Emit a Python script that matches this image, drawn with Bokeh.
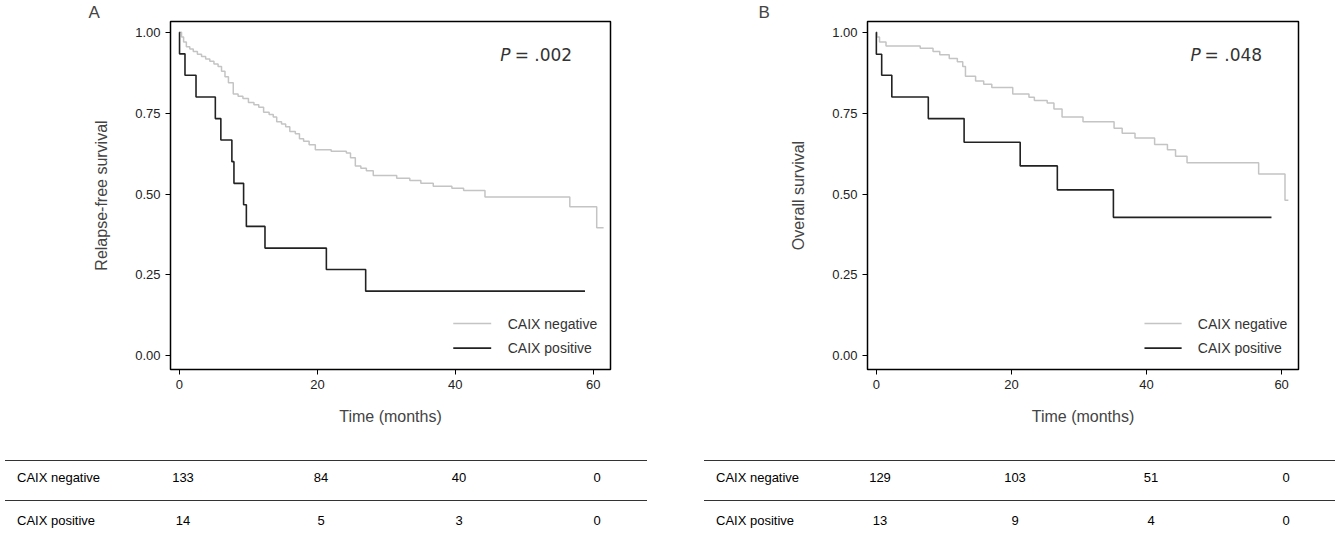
from bokeh.plotting import figure
from bokeh.models import Range1d, Label, NumeralTickFormatter, FixedTicker, Div
from bokeh.layouts import row, column
from bokeh.embed import file_html
from bokeh.resources import INLINE

# Panel A: relapse-free survival
a_neg_t = [0, 0.3, 0.6, 1.0, 1.5, 2.0, 2.6, 3.2, 3.8, 4.4, 5.0, 5.6, 6.1, 6.6, 7.1, 7.8, 8.5, 9.2, 10.0, 10.8,
           11.5, 12.2, 13.0, 13.6, 14.1, 14.8, 15.4, 16.0, 16.8, 17.4, 18.0, 18.8, 19.7, 22.0, 24.2, 24.8, 25.5,
           26.3, 27.1, 28.1, 31.5, 33.4, 35.0, 36.8, 39.5, 41.2, 44.3, 56.6, 60.5, 61.5]
a_neg_s = [1.0, 0.985, 0.970, 0.955, 0.948, 0.940, 0.932, 0.925, 0.917, 0.910, 0.902, 0.894, 0.879, 0.862, 0.844,
           0.809, 0.802, 0.795, 0.783, 0.776, 0.768, 0.753, 0.746, 0.738, 0.723, 0.716, 0.708, 0.693, 0.686, 0.671,
           0.663, 0.652, 0.637, 0.632, 0.627, 0.612, 0.587, 0.580, 0.572, 0.557, 0.549, 0.542, 0.533, 0.524, 0.518,
           0.511, 0.491, 0.461, 0.396, 0.396]
a_pos_t = [0, 0.01, 0.8, 2.4, 5.2, 6.0, 7.6, 7.9, 9.3, 9.7, 12.4, 21.3, 27.0, 58.8]
a_pos_s = [1.0, 0.933, 0.867, 0.80, 0.733, 0.667, 0.60, 0.533, 0.467, 0.40, 0.333, 0.267, 0.20, 0.20]

# Panel B: overall survival
b_neg_t = [0, 0.1, 0.48, 1.44, 6.5, 8.4, 9.4, 10.8, 12.0, 12.8, 13.2, 14.7, 15.9, 17.1, 20.2, 22.6, 23.4, 25.3,
           26.3, 27.5, 30.6, 35.2, 36.4, 38.3, 41.2, 43.1, 44.3, 46.0, 56.6, 60.5, 61.0]
b_neg_s = [1.0, 0.985, 0.970, 0.957, 0.950, 0.940, 0.930, 0.919, 0.909, 0.894, 0.864, 0.849, 0.839, 0.829, 0.809,
           0.799, 0.789, 0.781, 0.763, 0.738, 0.723, 0.703, 0.688, 0.673, 0.653, 0.637, 0.617, 0.597, 0.562, 0.481,
           0.481]
b_pos_t = [0, 0.01, 0.8, 2.3, 7.7, 13.0, 21.3, 26.8, 35.1, 58.5]
b_pos_s = [1.0, 0.932, 0.867, 0.80, 0.733, 0.66, 0.587, 0.513, 0.428, 0.428]

table_times = [0, 20, 40, 60]
a_neg_risk = ["133", "84", "40", "0"]
a_pos_risk = ["14", "5", "3", "0"]
b_neg_risk = ["129", "103", "51", "0"]
b_pos_risk = ["13", "9", "4", "0"]

FONT = "Liberation Sans"
XR = (-1.3, 62.5)


def panel(letter, ylabel, pval, neg_t, neg_s, pos_t, pos_s, neg_risk, pos_risk, bl, fw, br, line_l, line_r):
    W = bl + fw + br
    p = figure(width=W, height=440, x_range=Range1d(*XR), y_range=Range1d(-0.042, 1.033),
               output_backend="svg", toolbar_location=None, min_border_left=bl, min_border_right=br,
               min_border_top=0, min_border_bottom=71)
    p.title.text = letter
    p.title.text_font = FONT
    p.title.text_font_size = "17px"
    p.title.text_font_style = "normal"
    p.title.offset = -(bl - 88)
    p.title.standoff = 0
    p.xgrid.visible = False
    p.ygrid.visible = False
    p.outline_line_color = "black"
    p.outline_line_width = 1.5
    p.xaxis.ticker = FixedTicker(ticks=[0, 20, 40, 60])
    p.yaxis.ticker = FixedTicker(ticks=[0, 0.25, 0.5, 0.75, 1.0])
    p.yaxis.formatter = NumeralTickFormatter(format="0.00")
    for ax in (p.xaxis, p.yaxis):
        ax.axis_line_color = None
        ax.minor_tick_line_color = None
        ax.major_tick_out = 5
        ax.major_tick_in = 0
        ax.major_label_text_font = FONT
        ax.major_label_text_font_size = "13px"
        ax.major_label_text_color = "#222222"
        ax.axis_label_text_font = FONT
        ax.axis_label_text_font_style = "normal"
        ax.axis_label_text_font_size = "16px"
    p.xaxis.axis_label = "Time (months)"
    p.xaxis.axis_label_standoff = 16
    p.yaxis.axis_label = ylabel
    p.yaxis.axis_label_standoff = 22

    p.step(neg_t, neg_s, mode="after", line_color="#c4c4c4", line_width=1.5)
    p.step(pos_t, pos_s, mode="after", line_color="#222222", line_width=1.6)

    # legend
    p.line([39.7, 45.2], [0.10, 0.10], line_color="#c4c4c4", line_width=1.5)
    p.line([39.7, 45.2], [0.024, 0.024], line_color="#222222", line_width=1.6)
    for yy, txt in ((0.10, "CAIX negative"), (0.024, "CAIX positive")):
        p.add_layout(Label(x=47.6, y=yy, text=txt, text_font=FONT, text_font_size="14px",
                           text_baseline="middle", text_color="#333333"))
    p.add_layout(Label(x=46.5, y=0.93, text="P", text_font="DejaVu Sans", text_font_style="italic",
                       text_font_size="17px", text_baseline="middle", text_color="#333333"))
    p.add_layout(Label(x=48.6, y=0.93, text=" = " + pval, text_font="DejaVu Sans",
                       text_font_size="17px", text_baseline="middle", text_color="#333333"))

    # number-at-risk table as positioned html
    scale = fw / (XR[1] - XR[0])

    def px(t):
        return bl + (t - XR[0]) * scale

    parts = []
    for top in (15, 55):
        parts.append('<div style="position:absolute;left:%dpx;width:%dpx;top:%dpx;border-top:1.3px solid #333"></div>'
                     % (line_l, line_r - line_l, top))
    span = ('<span style="position:absolute;left:%dpx;top:%dpx;transform:translate(%s,-50%%);'
            'font:13px \'%s\';white-space:nowrap">%s</span>')
    for top, name, vals in ((32, "CAIX negative", neg_risk), (75, "CAIX positive", pos_risk)):
        parts.append(span % (line_l + 12, top, "0", FONT, name))
        for tt, v in zip(table_times, vals):
            parts.append(span % (px(tt), top, "-50%", FONT, v))
    t = Div(text='<div style="position:relative;width:%dpx;height:85px">%s</div>' % (W, "".join(parts)),
            width=W, height=85)
    return column(p, t)


pa = panel("A", "Relapse-free survival", ".002", a_neg_t, a_neg_s, a_pos_t, a_pos_s,
           a_neg_risk, a_pos_risk, 170, 440, 50, 0, 642)
pb = panel("B", "Overall survival", ".048", b_neg_t, b_neg_s, b_pos_t, b_pos_s,
           b_neg_risk, b_pos_risk, 197, 431, 32, 29, 660)
lay = row(pa, pb)
open("out.html", "w").write(file_html(lay, INLINE))
